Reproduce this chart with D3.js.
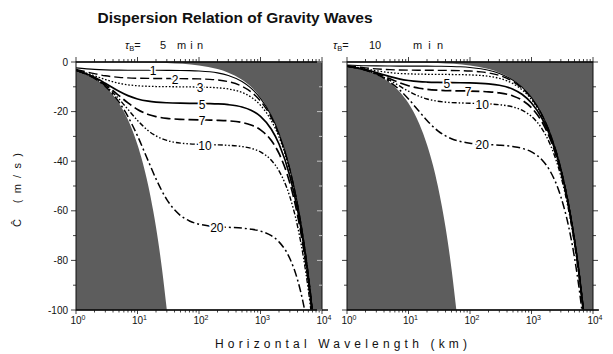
<!DOCTYPE html>
<html>
<head>
<meta charset="utf-8">
<script src="https://cdn.jsdelivr.net/npm/d3@7"></script>
<style>
  body { margin: 0; background: #fff; }
  text { font-family: "Liberation Sans", Arial, Helvetica, sans-serif; fill: #111; }
</style>
</head>
<body>
<svg id="chart" width="613" height="354"></svg>
<script>
// Horizontal wavelength grid (km) shared by all curves
const lambdaX = [1, 2, 3, 5, 7, 10, 15, 20, 30, 50, 70, 100, 150, 200, 300, 500, 700, 1000, 1500, 2000, 3000, 4000, 5000, 6000, 7000];

// Vertical wavelengths (km) labelling each curve
const verticalWavelengths = [1, 2, 3, 5, 7, 10, 20];

// Buoyancy periods of the two panels (min)
const buoyancyPeriods = [5, 10];

// Intrinsic phase speed (m/s), tau_B = 5 min
const tau5_z1  = [-2.36, -2.98, -3.16, -3.27, -3.30, -3.32, -3.33, -3.34, -3.36, -3.41, -3.48, -3.63, -3.96, -4.39, -5.43, -7.88, -10.54, -14.67, -21.68, -28.76, -42.99, -57.2, -71.5, -85.8, -100.1];
const tau5_z2  = [-2.98, -4.71, -5.55, -6.19, -6.41, -6.54, -6.61, -6.63, -6.67, -6.70, -6.74, -6.82, -7.00, -7.25, -7.93, -9.77, -12.02, -15.77, -22.44, -29.34, -43.38, -57.53, -71.74, -85.97, -100.2];
const tau5_z3  = [-3.16, -5.55, -7.07, -8.57, -9.19, -9.58, -9.81, -9.89, -9.95, -10.01, -10.05, -10.10, -10.23, -10.40, -10.88, -12.29, -14.14, -17.44, -23.64, -30.27, -44.01, -58.01, -72.13, -86.3, -100.5];
const tau5_z5  = [-3.27, -6.19, -8.57, -11.79, -13.56, -14.91, -15.81, -16.17, -16.44, -16.60, -16.65, -16.71, -16.80, -16.91, -17.21, -18.13, -19.44, -21.95, -27.14, -33.08, -45.99, -59.52, -73.35, -87.32, -101.4];
const tau5_z7  = [-3.30, -6.41, -9.19, -13.56, -16.50, -19.11, -21.14, -22.02, -22.72, -23.12, -23.24, -23.32, -23.43, -23.51, -23.72, -24.40, -25.39, -27.36, -31.68, -36.89, -48.8, -61.72, -75.14, -88.83, -102.7];
const tau5_z10 = [-3.32, -6.54, -9.58, -14.91, -19.11, -23.57, -27.74, -29.81, -31.62, -32.70, -33.01, -33.20, -33.33, -33.42, -33.61, -34.09, -34.80, -36.27, -39.62, -43.90, -54.3, -66.15, -78.82, -91.97, -105.4];
const tau5_z20 = [-3.33, -6.63, -9.89, -16.17, -22.02, -29.81, -40.0, -47.14, -55.47, -61.90, -64.1, -65.39, -66.11, -66.40, -66.67, -66.99, -67.41, -68.18, -70.02, -72.53, -79.25, -87.80, -97.70, -108.6, -120.2];

// Intrinsic phase speed (m/s), tau_B = 10 min
const tau10_z1  = [-1.18, -1.49, -1.58, -1.63, -1.65, -1.66, -1.67, -1.67, -1.72, -1.81, -1.94, -2.20, -2.71, -3.31, -4.60, -7.33, -10.14, -14.38, -21.49, -28.62, -42.9, -57.17, -71.45, -85.73, -100.0];
const tau10_z2  = [-1.49, -2.36, -2.77, -3.09, -3.21, -3.27, -3.30, -3.32, -3.36, -3.41, -3.48, -3.63, -3.96, -4.39, -5.43, -7.88, -10.54, -14.67, -21.68, -28.76, -42.99, -57.2, -71.5, -85.8, -100.1];
const tau10_z3  = [-1.58, -2.77, -3.54, -4.29, -4.60, -4.79, -4.90, -4.95, -4.98, -5.04, -5.10, -5.20, -5.44, -5.76, -6.59, -8.72, -11.18, -15.14, -22.0, -29.0, -43.15, -57.36, -71.6, -85.86, -100.1];
const tau10_z5  = [-1.63, -3.09, -4.29, -5.89, -6.78, -7.45, -7.91, -8.08, -8.22, -8.32, -8.37, -8.44, -8.60, -8.81, -9.37, -10.97, -13.02, -16.54, -22.99, -29.76, -43.66, -57.74, -71.91, -86.12, -100.35];
const tau10_z7  = [-1.65, -3.21, -4.60, -6.78, -8.25, -9.56, -10.57, -11.01, -11.36, -11.57, -11.65, -11.72, -11.86, -12.01, -12.43, -13.68, -15.37, -18.44, -24.39, -30.86, -44.42, -58.32, -72.37, -86.5, -100.68];
const tau10_z10 = [-1.66, -3.27, -4.79, -7.45, -9.56, -11.79, -13.87, -14.91, -15.81, -16.36, -16.51, -16.64, -16.77, -16.89, -17.21, -18.13, -19.44, -21.95, -27.14, -33.08, -45.99, -59.52, -73.35, -87.32, -101.4];
const tau10_z20 = [-1.67, -3.32, -4.94, -8.08, -11.0, -14.91, -20.0, -23.57, -27.74, -30.95, -32.07, -32.73, -33.10, -33.29, -33.54, -34.09, -34.80, -36.27, -39.62, -43.90, -54.3, -66.15, -78.82, -91.97, -105.4];

// Forbidden-region edges: omega = N (short waves) and omega = f (long waves)
const buoyEdgeLambda5  = [1, 1.5, 2, 3, 4, 5, 6, 7, 8, 10, 12, 15, 18, 20, 25, 30];
const buoyEdgeSpeed5   = [-3.33, -5, -6.67, -10, -13.33, -16.67, -20, -23.33, -26.67, -33.33, -40, -50, -60, -66.67, -83.33, -100];
const buoyEdgeLambda10 = [1, 2, 3, 5, 7, 10, 15, 20, 25, 30, 35, 40, 50, 60];
const buoyEdgeSpeed10  = [-1.67, -3.33, -5, -8.33, -11.67, -16.67, -25, -33.33, -41.67, -50, -58.33, -66.67, -83.33, -100];
const inertialEdgeLambda = [10, 30, 100, 200, 300, 500, 700, 1000, 1500, 2000, 2500, 3000, 3500, 4000, 5000, 6000, 7000];
const inertialEdgeSpeed  = [-0.14, -0.43, -1.43, -2.86, -4.29, -7.14, -10, -14.29, -21.43, -28.57, -35.71, -42.86, -50, -57.14, -71.43, -85.71, -100];

// Where the curve labels sit (horizontal wavelength, km)
const labelLambda5  = [18, 41, 104, 112, 112, 125, 195];
const labelNames5   = ["1", "2", "3", "5", "7", "10", "20"];
const labelLambda10 = [42, 93, 158, 158];
const labelNames10  = ["5", "7", "10", "20"];

// Axis ticks
const yTickValues = [0, -20, -40, -60, -80, -100];
const xDecades = [0, 1, 2, 3, 4];

// ---------------------------------------------------------------------------
const svg = d3.select("#chart");
const yTop = 62, yBottom = 310;
const shade = "#5d5d5d";

const lineStyles = [
  { w: 1.1, dash: null },
  { w: 1.4, dash: "9,4" },
  { w: 1.3, dash: "1.6,1.8" },
  { w: 1.7, dash: null },
  { w: 1.7, dash: "10,4" },
  { w: 1.4, dash: "5,2,1.5,2,1.5,2" },
  { w: 1.5, dash: "8,3,2,3" }
];

const panels = [
  {
    id: "p5", left: 76, right: 322,
    series: [tau5_z1, tau5_z2, tau5_z3, tau5_z5, tau5_z7, tau5_z10, tau5_z20],
    buoyL: buoyEdgeLambda5, buoyC: buoyEdgeSpeed5,
    labL: labelLambda5, labN: labelNames5,
    leftTickOut: true, rightTickOut: false, yLabels: true
  },
  {
    id: "p10", left: 347, right: 593,
    series: [tau10_z1, tau10_z2, tau10_z3, tau10_z5, tau10_z7, tau10_z10, tau10_z20],
    buoyL: buoyEdgeLambda10, buoyC: buoyEdgeSpeed10,
    labL: labelLambda10, labN: labelNames10,
    leftTickOut: true, rightTickOut: true, yLabels: false
  }
];

const y = d3.scaleLinear().domain([-100, 0]).range([yBottom, yTop]);

// speed on a curve at wavelength l (log-linear between grid points), for label placement
function valueAt(lams, vals, l) {
  const t = Math.log10(l);
  for (let i = 0; i < lams.length - 1; i++) {
    const a = Math.log10(lams[i]), b = Math.log10(lams[i + 1]);
    if (t >= a && t <= b) return vals[i] + (vals[i + 1] - vals[i]) * (t - a) / (b - a);
  }
  return vals[vals.length - 1];
}

panels.forEach(p => {
  const x = d3.scaleLog().domain([1, 1e4]).range([p.left, p.right]);
  const g = svg.append("g");

  svg.append("clipPath").attr("id", "clip-" + p.id)
    .append("rect").attr("x", p.left).attr("y", yTop)
    .attr("width", p.right - p.left).attr("height", yBottom - yTop);

  const area = g.append("g").attr("clip-path", `url(#clip-${p.id})`);
  const line = d3.line().x(d => x(d[0])).y(d => y(d[1])).curve(d3.curveMonotoneX);

  // short-wave forbidden region (omega > N)
  const buoyPts = p.buoyL.map((l, i) => [l, p.buoyC[i]]);
  area.append("path")
    .attr("d", line(buoyPts) + `L${x(1)},${y(-100)}Z`)
    .attr("fill", shade);

  // long-wave forbidden region (omega < f)
  const inPts = inertialEdgeLambda.map((l, i) => [l, inertialEdgeSpeed[i]]);
  area.append("path")
    .attr("d", `M${x(10)},${y(0)}L` + line(inPts).slice(1) + `L${x(1e4)},${y(-100)}L${x(1e4)},${y(0)}Z`)
    .attr("fill", shade);

  // dispersion curves
  p.series.forEach((vals, i) => {
    const st = lineStyles[i];
    area.append("path")
      .attr("d", line(lambdaX.map((l, j) => [l, vals[j]])))
      .attr("fill", "none")
      .attr("stroke", "#000")
      .attr("stroke-width", st.w)
      .attr("stroke-dasharray", st.dash);
  });

  // curve labels
  p.labN.forEach((name, k) => {
    const idx = verticalWavelengths.indexOf(+name);
    const v = valueAt(lambdaX, p.series[idx], p.labL[k]);
    g.append("text")
      .attr("x", x(p.labL[k]))
      .attr("y", y(v) + 2)
      .attr("text-anchor", "middle")
      .attr("dominant-baseline", "middle")
      .attr("font-size", 12)
      .style("fill", "#000")
      .style("stroke", "#fff").style("stroke-width", "3.5px")
      .style("stroke-linejoin", "round")
      .style("paint-order", "stroke")
      .text(name);
  });

  // frame
  g.append("rect").attr("x", p.left).attr("y", yTop)
    .attr("width", p.right - p.left).attr("height", yBottom - yTop)
    .attr("fill", "none").attr("stroke", "#111").attr("stroke-width", 1);
  g.append("line").attr("x1", p.left).attr("x2", p.right)
    .attr("y1", yTop).attr("y2", yTop).attr("stroke", "#111").attr("stroke-width", 1.6);
  g.append("line").attr("x1", p.left).attr("x2", p.right + 6)
    .attr("y1", yBottom).attr("y2", yBottom).attr("stroke", "#111").attr("stroke-width", 1.4);

  // log ticks on top and bottom
  const logTicks = [];
  xDecades.forEach(d => {
    for (let k = 1; k <= 9; k++) {
      const v = k * Math.pow(10, d);
      if (v <= 1e4) logTicks.push({ v, major: k === 1 });
    }
  });
  g.selectAll(null).data(logTicks).join("line")
    .attr("x1", d => x(d.v)).attr("x2", d => x(d.v))
    .attr("y1", yTop).attr("y2", d => yTop - (d.major ? 5 : 3))
    .attr("stroke", "#111").attr("stroke-width", 0.8);
  g.selectAll(null).data(logTicks).join("line")
    .attr("x1", d => x(d.v)).attr("x2", d => x(d.v))
    .attr("y1", yBottom).attr("y2", d => yBottom + (d.major ? 4 : 2.5))
    .attr("stroke", "#111").attr("stroke-width", 0.8);

  // decade labels
  const xl = g.selectAll(null).data(xDecades).join("text")
    .attr("x", d => x(Math.pow(10, d)) + 2)
    .attr("y", 324)
    .attr("text-anchor", "middle")
    .attr("font-size", 10);
  xl.append("tspan").text("10");
  xl.append("tspan").attr("font-size", 7).attr("dy", -4).text(d => d);

  // speed ticks on left/right edges
  const yTicks = d3.range(0, -101, -10);
  const leftDir = p.leftTickOut ? -1 : 1;
  const rightDir = p.rightTickOut ? 1 : -1;
  g.selectAll(null).data(yTicks).join("line")
    .attr("x1", p.left).attr("x2", d => p.left + leftDir * (d % 20 === 0 ? 5 : 3))
    .attr("y1", d => y(d)).attr("y2", d => y(d))
    .attr("stroke", "#111").attr("stroke-width", 0.8);
  g.selectAll(null).data(yTicks).join("line")
    .attr("x1", p.right).attr("x2", d => p.right + rightDir * (d % 20 === 0 ? 5 : 3))
    .attr("y1", d => y(d)).attr("y2", d => y(d))
    .attr("stroke", d => p.rightTickOut ? "#111" : "#ddd").attr("stroke-width", 0.8);

  if (p.yLabels) {
    g.selectAll(null).data(yTickValues).join("text")
      .attr("x", p.left - 8)
      .attr("y", d => y(d) + 3.5)
      .attr("text-anchor", "end")
      .attr("font-size", 10)
      .text(d => d === 0 ? "0" : "-" + Math.abs(d));
  }
});

// Title
svg.append("text").attr("x", 235).attr("y", 23)
  .attr("text-anchor", "middle").attr("font-size", 15.5).attr("font-weight", "bold")
  .text("Dispersion Relation of Gravity Waves");

// Panel headings
function heading(xTau, xNum, xMin, minLen, period) {
  const t = svg.append("text").attr("y", 49).attr("font-size", 11);
  t.append("tspan").attr("x", xTau).attr("font-style", "italic").text("\u03C4");
  t.append("tspan").attr("font-size", 7.5).attr("dy", 2).text("B");
  t.append("tspan").attr("dy", -2).text("=");
  svg.append("text").attr("x", xNum).attr("y", 49).attr("font-size", 11).text(period);
  svg.append("text").attr("x", xMin).attr("y", 49).attr("font-size", 11)
    .attr("textLength", minLen).attr("lengthAdjust", "spacing").text("min");
}
heading(125, 160, 177, 26, buoyancyPeriods[0]);
heading(333, 369, 413, 30, buoyancyPeriods[1]);

// Axis titles
svg.append("text").attr("x", 341).attr("y", 348)
  .attr("text-anchor", "middle").attr("font-size", 12)
  .attr("textLength", 252).attr("lengthAdjust", "spacing")
  .text("Horizontal Wavelength (km)");

svg.append("text")
  .attr("transform", "translate(21,190) rotate(-90)")
  .attr("text-anchor", "middle").attr("font-size", 11)
  .attr("textLength", 74).attr("lengthAdjust", "spacing")
  .text("\u0108 (m/s)");
</script>
</body>
</html>
